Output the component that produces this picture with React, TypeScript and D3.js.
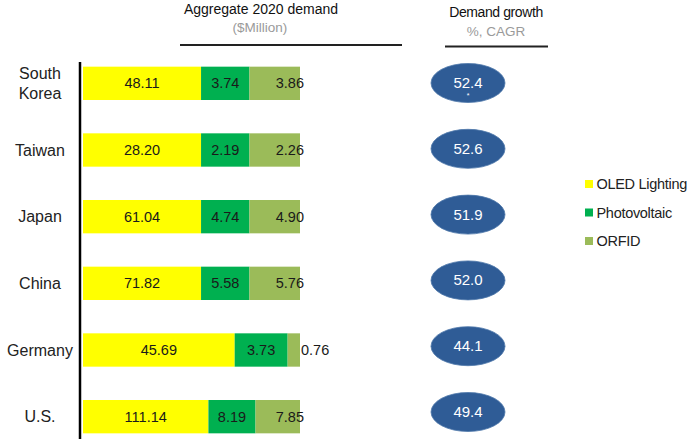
import React from "react";
import * as d3 from "d3";

const categories = ["South Korea", "Taiwan", "Japan", "China", "Germany", "U.S."];
const oledValues = [48.11, 28.2, 61.04, 71.82, 45.69, 111.14];
const pvValues = [3.74, 2.19, 4.74, 5.58, 3.73, 8.19];
const orfidValues = [3.86, 2.26, 4.9, 5.76, 0.76, 7.85];
const growthValues = [52.4, 52.6, 51.9, 52.0, 44.1, 49.4];
// share of the bar length as drawn in the source graphic (percent)
const oledShare = [54.4, 54.4, 54.4, 54.4, 69.9, 57.8];
const pvShare = [22.3, 22.3, 22.3, 22.3, 24.4, 21.7];
const orfidShare = [23.3, 23.3, 23.3, 23.3, 5.7, 20.5];
const seriesNames = ["OLED Lighting", "Photovoltaic", "ORFID"];
const seriesColors = ["#FFFF00", "#00B050", "#9BBB59"];

const W = 691;
const H = 439;
const FONT = "'Liberation Sans', Arial, sans-serif";

export default function App() {
  const y = d3.scaleBand<string>().domain(categories).range([50, 450]).paddingInner(0.5).paddingOuter(0.25);
  const x = d3.scaleLinear().domain([0, 100]).range([83, 300]);
  const yEll = d3.scalePoint<string>().domain(categories).range([83, 412]);
  const fmt = d3.format(".2f");
  const fmt1 = d3.format(".1f");

  return (
    <div style={{ position: "fixed", left: 0, top: 0 }}>
      <svg width={W} height={H} style={{ display: "block", background: "#fff" }} fontFamily={FONT}>
        {/* headers */}
        <text x={261} y={14} textAnchor="middle" fontSize={14} fill="#111">Aggregate 2020 demand</text>
        <text x={260} y={32} textAnchor="middle" fontSize={13.5} fill="#9a9a9a">($Million)</text>
        <line x1={180} x2={402} y1={45} y2={45} stroke="#222" strokeWidth={2} />
        <text x={496} y={17} textAnchor="middle" fontSize={14} fill="#111" letterSpacing={-0.4}>Demand growth</text>
        <text x={496} y={36} textAnchor="middle" fontSize={13.5} fill="#9a9a9a">%, CAGR</text>
        <line x1={445} x2={548} y1={46.5} y2={46.5} stroke="#222" strokeWidth={2} />

        {/* axis line */}
        <line x1={80} x2={80} y1={62} y2={H} stroke="#000" strokeWidth={2.5} />

        {categories.map((c, i) => {
          const top = y(c)!;
          const bh = y.bandwidth();
          const cy = top + bh / 2;
          const shares = [oledShare[i], pvShare[i], orfidShare[i]];
          const vals = [oledValues[i], pvValues[i], orfidValues[i]];
          let acc = 0;
          const segs = shares.map((s, k) => {
            const x0 = x(acc);
            acc += s;
            const x1 = x(acc);
            return { x0, x1, k, v: vals[k] };
          });
          const words = c.split(" ");
          return (
            <g key={c}>
              <text textAnchor="middle" fontSize={16} fill="#222">
                {words.length > 1
                  ? words.map((w, j) => (
                      <tspan key={j} x={40} y={cy + 5.5 + (j - (words.length - 1) / 2) * 19.5}>{w}</tspan>
                    ))
                  : <tspan x={40} y={cy + 5.5}>{c}</tspan>}
              </text>
              {segs.map((s) => (
                <rect key={s.k} x={s.x0} y={top} width={s.x1 - s.x0} height={bh} fill={seriesColors[s.k]} />
              ))}
              {segs.map((s) => {
                let tx = (s.x0 + s.x1) / 2;
                let anchor: "middle" | "start" | "end" = "middle";
                if (s.k === 2) {
                  if (s.x1 - s.x0 < 30) {
                    tx = s.x1 + 1;
                    anchor = "start";
                  } else {
                    tx = Math.max(tx + 14, s.x1 - 23) + 0;
                    tx = s.x1 + 4;
                    anchor = "end";
                  }
                }
                return (
                  <text key={"t" + s.k} x={tx} y={cy + 5} textAnchor={anchor} fontSize={14.5} fill="#1a1a1a">
                    {fmt(s.v)}
                  </text>
                );
              })}
              {/* growth ellipse */}
              <ellipse cx={468} cy={yEll(c)!} rx={37} ry={19.5} fill="#2F5C96" stroke="#4f78ab" strokeWidth={0.8} />
              <text x={468} y={yEll(c)! + 5} textAnchor="middle" fontSize={15} fill="#fff">{fmt1(growthValues[i])}</text>
              {i === 0 && (
                <text x={468} y={yEll(c)! + 15} textAnchor="middle" fontSize={7} fill="#fff">*</text>
              )}
            </g>
          );
        })}

        {/* legend */}
        {seriesNames.map((n, k) => {
          const ly = 184 + k * 28.5;
          return (
            <g key={n}>
              <rect x={585} y={ly - 4} width={8} height={8} fill={seriesColors[k]} />
              <text x={596.5} y={ly + 5} fontSize={14.5} fill="#222" letterSpacing={-0.3}>{n}</text>
            </g>
          );
        })}
      </svg>
    </div>
  );
}
